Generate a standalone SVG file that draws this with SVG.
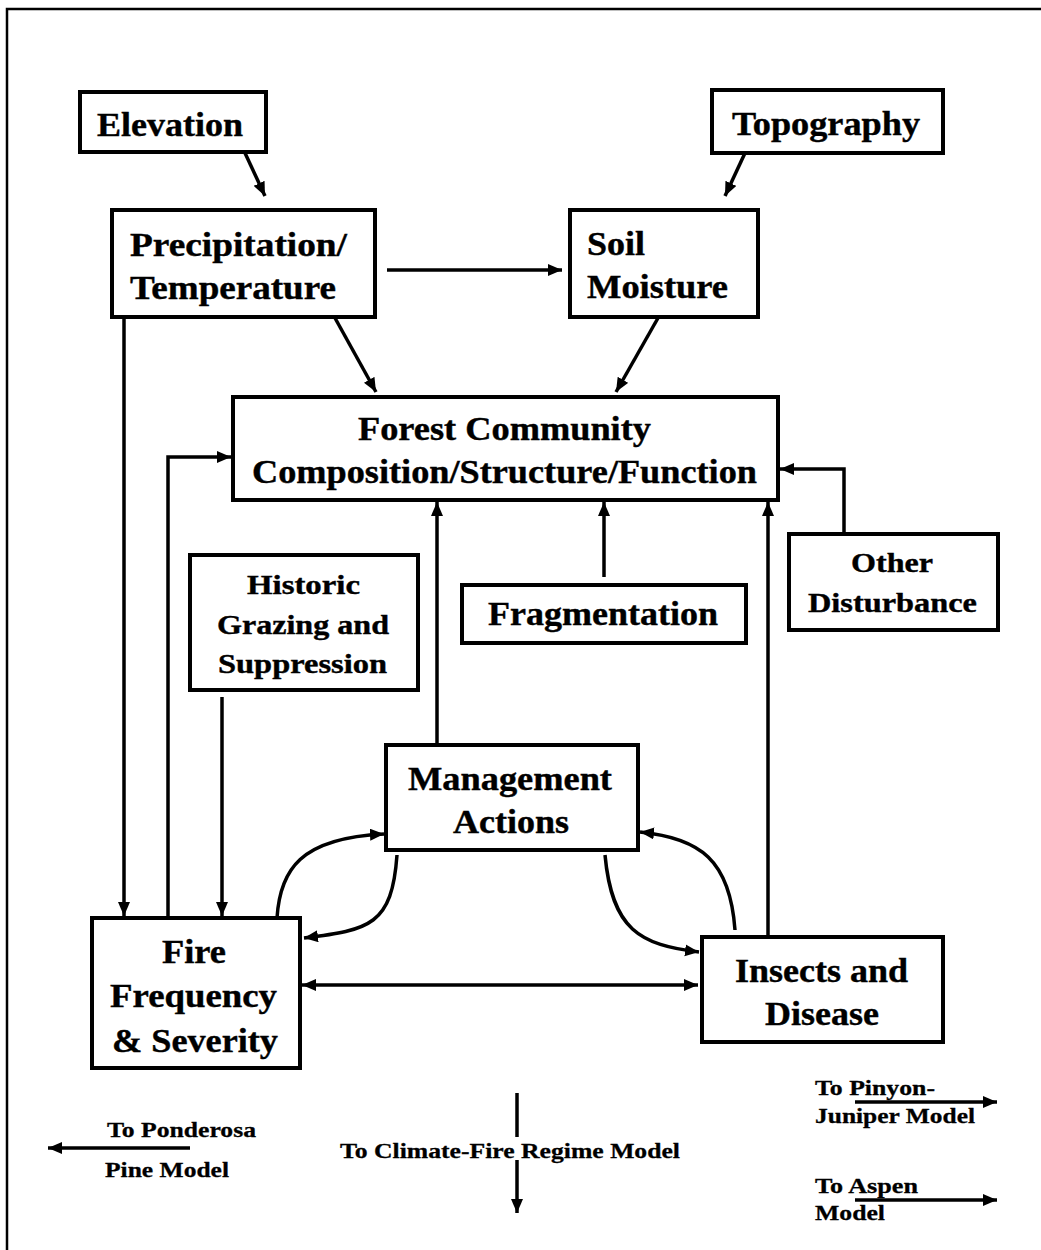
<svg xmlns="http://www.w3.org/2000/svg" width="1041" height="1250" viewBox="0 0 1041 1250">
  <defs>
    <marker id="arrow" markerUnits="userSpaceOnUse" markerWidth="16" markerHeight="14" refX="14" refY="6" orient="auto-start-reverse">
      <path d="M0,0 L14,6 L0,12 z" fill="#000"/>
    </marker>
    <style>
      .box { fill: #fff; stroke: #000; stroke-width: 4; }
      .lbl { font-family: 'Times New Roman', 'Liberation Serif', Tinos, Times, serif; font-weight: 700; fill: #000; font-size: 33px; stroke: #000; stroke-width: 0.4; }
      .sm { font-size: 28px; }
      .tiny { font-size: 22px; stroke-width: 0.3; }
      .conn { fill: none; stroke: #000; stroke-width: 3.5; }
      .arr { marker-end: url(#arrow); }
    </style>
  </defs>

  <rect width="1041" height="1250" fill="#fff"/>
  <!-- page frame, open on the right and bottom -->
  <rect x="7" y="9" width="1100" height="1300" fill="none" stroke="#000" stroke-width="2.5"/>

  <g id="connectors">
    <path class="conn arr" d="M245,153 L265,196"/>
    <path class="conn arr" d="M745,153 L725,196"/>
    <path class="conn arr" d="M387,270 L562,270"/>
    <path class="conn arr" d="M335,318 L376,392"/>
    <path class="conn arr" d="M658,318 L616,392"/>
    <path class="conn arr" d="M124,318 L124,916"/>
    <path class="conn arr" d="M168,918 L168,457 L231,457"/>
    <path class="conn arr" d="M222,697 L222,916"/>
    <path class="conn arr" d="M437,745 L437,502"/>
    <path class="conn arr" d="M604,577 L604,502"/>
    <path class="conn arr" d="M844,534 L844,469 L780,469"/>
    <path class="conn arr" d="M768,935 L768,502"/>
    <path class="conn arr" style="marker-start:url(#arrow)" d="M302,985 L698,985"/>
    <path class="conn arr" d="M277,918 C280,870 300,838 384,834"/>
    <path class="conn arr" d="M397,855 C392,925 370,930 304,938"/>
    <path class="conn arr" d="M605,855 C612,930 640,945 699,952"/>
    <path class="conn arr" d="M735,930 C730,860 700,838 640,832"/>
    <!-- links out to the neighbouring models -->
    <path class="conn arr" d="M190,1148 L48,1148"/>
    <path class="conn" d="M517,1093 L517,1137"/>
    <path class="conn arr" d="M517,1160 L517,1213"/>
    <path class="conn arr" d="M855,1102 L997,1102"/>
    <path class="conn arr" d="M855,1200 L997,1200"/>
  </g>

  <g id="elevation">
    <rect class="box" x="80" y="92" width="186" height="60"/>
    <text class="lbl" x="97" y="136" textLength="146" lengthAdjust="spacingAndGlyphs">Elevation</text>
  </g>
  <g id="topography">
    <rect class="box" x="712" y="90" width="231" height="63"/>
    <text class="lbl" x="732" y="135" textLength="188" lengthAdjust="spacingAndGlyphs">Topography</text>
  </g>
  <g id="precipitation">
    <rect class="box" x="112" y="210" width="263" height="107"/>
    <text class="lbl" x="130" y="256" textLength="217" lengthAdjust="spacingAndGlyphs">Precipitation/</text>
    <text class="lbl" x="130" y="299" textLength="206" lengthAdjust="spacingAndGlyphs">Temperature</text>
  </g>
  <g id="soil-moisture">
    <rect class="box" x="570" y="210" width="188" height="107"/>
    <text class="lbl" x="587" y="255" textLength="58" lengthAdjust="spacingAndGlyphs">Soil</text>
    <text class="lbl" x="587" y="298" textLength="141" lengthAdjust="spacingAndGlyphs">Moisture</text>
  </g>
  <g id="forest-community">
    <rect class="box" x="233" y="397" width="545" height="103"/>
    <text class="lbl" x="358" y="440" textLength="293" lengthAdjust="spacingAndGlyphs">Forest Community</text>
    <text class="lbl" x="252" y="483" textLength="505" lengthAdjust="spacingAndGlyphs">Composition/Structure/Function</text>
  </g>
  <g id="historic-grazing">
    <rect class="box" x="190" y="555" width="228" height="135"/>
    <text class="lbl sm" x="247" y="594" textLength="113" lengthAdjust="spacingAndGlyphs">Historic</text>
    <text class="lbl sm" x="217" y="634" textLength="172" lengthAdjust="spacingAndGlyphs">Grazing and</text>
    <text class="lbl sm" x="218" y="673" textLength="169" lengthAdjust="spacingAndGlyphs">Suppression</text>
  </g>
  <g id="fragmentation">
    <rect class="box" x="462" y="585" width="284" height="58"/>
    <text class="lbl" x="488" y="625" textLength="230" lengthAdjust="spacingAndGlyphs">Fragmentation</text>
  </g>
  <g id="other-disturbance">
    <rect class="box" x="789" y="534" width="209" height="96"/>
    <text class="lbl sm" x="851" y="572" textLength="82" lengthAdjust="spacingAndGlyphs">Other</text>
    <text class="lbl sm" x="808" y="612" textLength="169" lengthAdjust="spacingAndGlyphs">Disturbance</text>
  </g>
  <g id="management">
    <rect class="box" x="386" y="745" width="252" height="105"/>
    <text class="lbl" x="408" y="790" textLength="204" lengthAdjust="spacingAndGlyphs">Management</text>
    <text class="lbl" x="453" y="833" textLength="116" lengthAdjust="spacingAndGlyphs">Actions</text>
  </g>
  <g id="fire">
    <rect class="box" x="92" y="918" width="208" height="150"/>
    <text class="lbl" x="162" y="963" textLength="64" lengthAdjust="spacingAndGlyphs">Fire</text>
    <text class="lbl" x="110" y="1007" textLength="167" lengthAdjust="spacingAndGlyphs">Frequency</text>
    <text class="lbl" x="112" y="1052" textLength="166" lengthAdjust="spacingAndGlyphs">&amp; Severity</text>
  </g>
  <g id="insects">
    <rect class="box" x="702" y="937" width="241" height="105"/>
    <text class="lbl" x="735" y="982" textLength="173" lengthAdjust="spacingAndGlyphs">Insects and</text>
    <text class="lbl" x="765" y="1025" textLength="114" lengthAdjust="spacingAndGlyphs">Disease</text>
  </g>

  <g id="out-ponderosa">
    <text class="lbl tiny" x="107" y="1137" textLength="149" lengthAdjust="spacingAndGlyphs">To Ponderosa</text>
    <text class="lbl tiny" x="105" y="1177" textLength="124" lengthAdjust="spacingAndGlyphs">Pine Model</text>
  </g>
  <g id="out-climate">
    <text class="lbl tiny" x="340" y="1158" textLength="340" lengthAdjust="spacingAndGlyphs">To Climate-Fire Regime Model</text>
  </g>
  <g id="out-pinyon">
    <text class="lbl tiny" x="815" y="1095" textLength="120" lengthAdjust="spacingAndGlyphs">To Pinyon-</text>
    <text class="lbl tiny" x="815" y="1123" textLength="160" lengthAdjust="spacingAndGlyphs">Juniper Model</text>
  </g>
  <g id="out-aspen">
    <text class="lbl tiny" x="815" y="1193" textLength="103" lengthAdjust="spacingAndGlyphs">To Aspen</text>
    <text class="lbl tiny" x="815" y="1220" textLength="70" lengthAdjust="spacingAndGlyphs">Model</text>
  </g>
</svg>
